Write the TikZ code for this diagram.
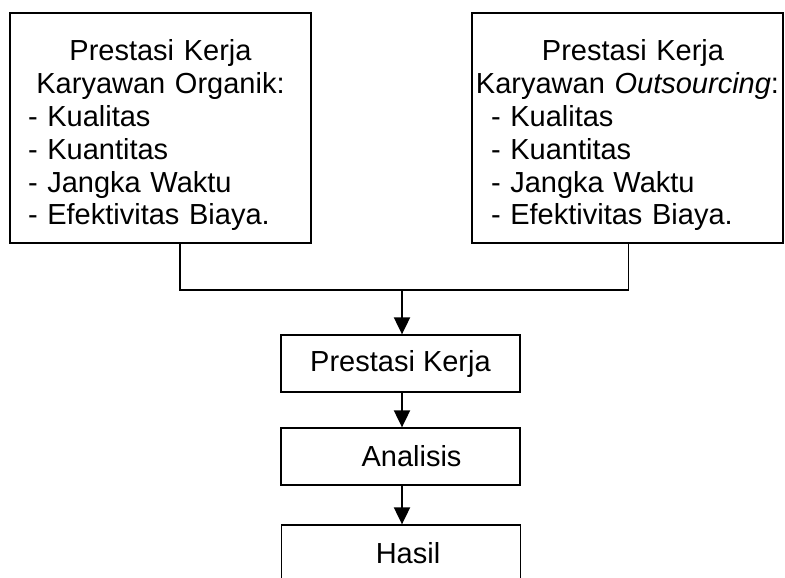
\documentclass[tikz,border=0pt]{standalone}
\usepackage{fontspec}
\setmainfont{Liberation Sans}
\usetikzlibrary{arrows.meta}
\begin{document}
\begin{tikzpicture}[x=1pt,y=-1pt,
    font=\fontsize{29}{32.8}\selectfont,
    bigbox/.style={draw, line width=1.3pt, inner sep=0pt, minimum height=230pt, align=left},
    smallbox/.style={draw, line width=1.3pt, minimum width=239pt, minimum height=57pt},
    arr/.style={line width=2pt, -{Triangle[width=16pt,length=17pt]}}]
    \useasboundingbox (0,0) rectangle (785,578);
    % variabel
    \node[bigbox, minimum width=301pt, text width=265pt] (org) at (160.5,128)
        {{\centering\rule{0pt}{36pt}Prestasi Kerja\\Karyawan Organik:\par}
         - Kualitas\\- Kuantitas\\- Jangka Waktu\\- Efektivitas Biaya.};
    \node[bigbox, minimum width=311pt, text width=273pt] (out) at (627.5,128)
        {{\centering\rule{0pt}{36pt}\hspace*{11pt}Prestasi Kerja\\\makebox[\linewidth]{Karyawan \textit{Outsourcing}:}\par}
         - Kualitas\\- Kuantitas\\- Jangka Waktu\\- Efektivitas Biaya.};
    % alur
    \node[smallbox] (pk) at (400.5,363.5) {Prestasi Kerja\hspace{16pt}};
    \node[smallbox] (ana) at (400.5,456.5) {\hspace{22pt}Analisis};
    \node[smallbox] (has) at (401,553.5) {\hspace{14pt}Hasil};
    \coordinate (j) at (402,290);
    \draw[line width=1.3pt] ([xshift=19.5pt]org.south) |- (j) -| ([xshift=1pt]out.south);
    \draw[arr] (j) -- (j |- pk.north);
    \draw[arr] (j |- pk.south) -- (j |- ana.north);
    \draw[arr] (j |- ana.south) -- (j |- has.north);
\end{tikzpicture}
\end{document}
